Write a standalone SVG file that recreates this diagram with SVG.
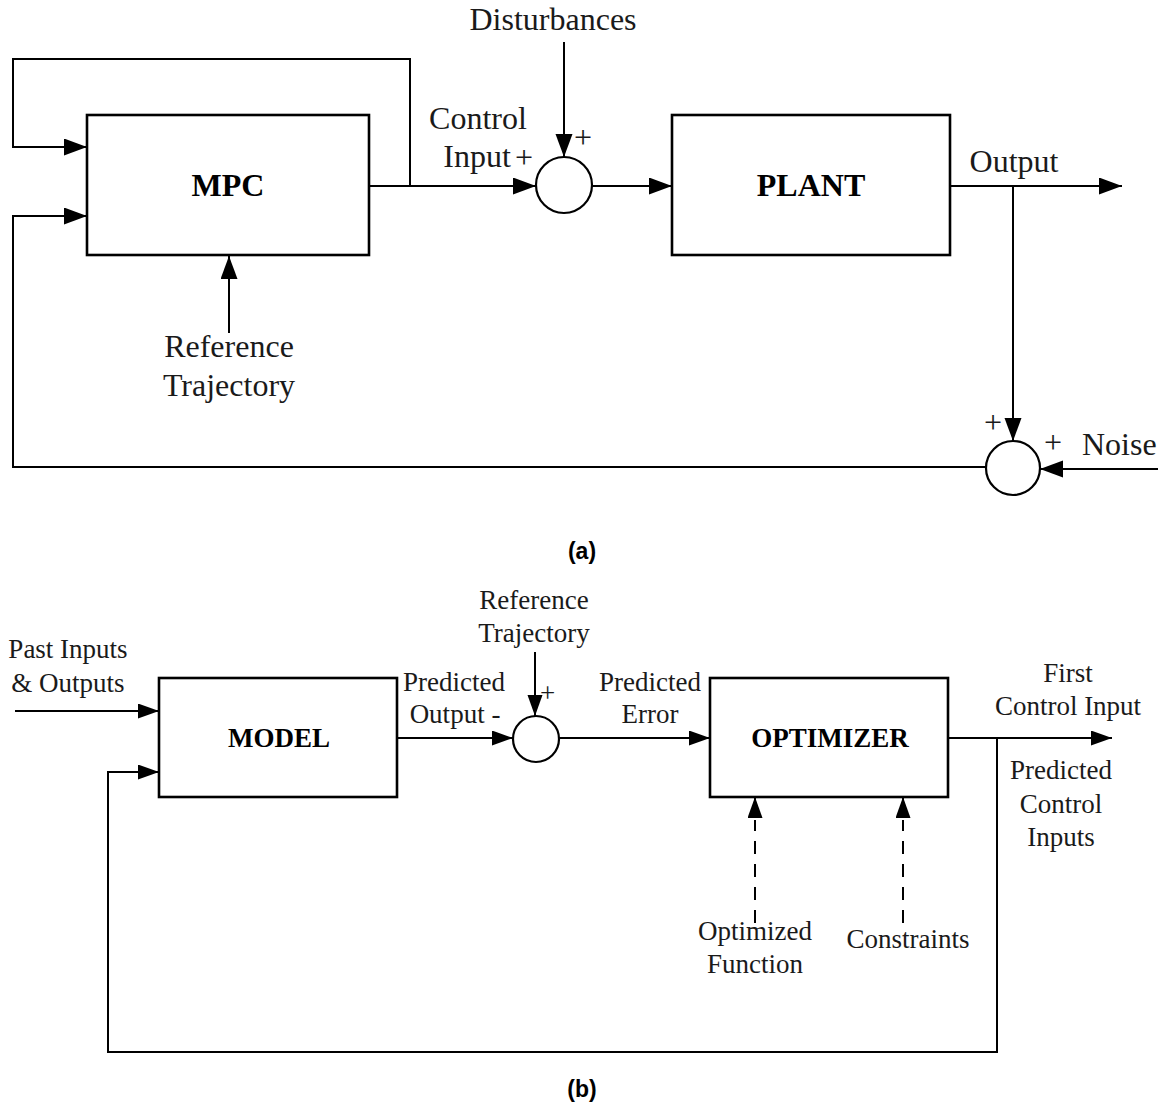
<svg xmlns="http://www.w3.org/2000/svg" width="1168" height="1115" viewBox="0 0 1168 1115">
<defs>
<marker id="arrA" markerUnits="userSpaceOnUse" markerWidth="26" markerHeight="20" refX="23" refY="8.5" orient="auto"><path d="M0,0 L23,8.5 L0,17 z" fill="#000"/></marker>
<marker id="arrB" markerUnits="userSpaceOnUse" markerWidth="24" markerHeight="16" refX="21" refY="7.5" orient="auto"><path d="M0,0 L21,7.5 L0,15 z" fill="#000"/></marker>
</defs>
<style>
.box{fill:#fff;stroke:#000;stroke-width:2.6}
.sum{fill:#fff;stroke:#000;stroke-width:2.2}
.ln{fill:none;stroke:#000;stroke-width:2}
.dash{fill:none;stroke:#000;stroke-width:2;stroke-dasharray:13,10}
.ta{font-family:"Liberation Serif",serif;font-size:32px;fill:#1a1a1a}
.tb{font-family:"Liberation Serif",serif;font-size:27px;fill:#1a1a1a}
.ba{font-family:"Liberation Serif",serif;font-size:32px;font-weight:bold;fill:#000}
.bb{font-family:"Liberation Serif",serif;font-size:27px;font-weight:bold;fill:#000}
.cap{font-family:"Liberation Sans",Arial,sans-serif;font-size:23px;font-weight:bold;fill:#000}
.m{text-anchor:middle}
</style>
<rect width="1168" height="1115" fill="#fff"/>
<g id="connectors">
<!-- (a) -->
<polyline class="ln" points="369,186 410,186 410,59 13,59 13,147 87,147" marker-end="url(#arrA)"/>
<polyline class="ln" points="986,467 13,467 13,216 87,216" marker-end="url(#arrA)"/>
<line class="ln" x1="410" y1="186" x2="536" y2="186" marker-end="url(#arrA)"/>
<line class="ln" x1="564" y1="42" x2="564" y2="157" marker-end="url(#arrA)"/>
<line class="ln" x1="592" y1="186" x2="672" y2="186" marker-end="url(#arrA)"/>
<line class="ln" x1="950" y1="186" x2="1122" y2="186" marker-end="url(#arrA)"/>
<line class="ln" x1="1013" y1="186" x2="1013" y2="441" marker-end="url(#arrA)"/>
<line class="ln" x1="1158" y1="469" x2="1040" y2="469" marker-end="url(#arrA)"/>
<line class="ln" x1="229" y1="333" x2="229" y2="256" marker-end="url(#arrA)"/>
<!-- (b) -->
<line class="ln" x1="15" y1="711" x2="159" y2="711" marker-end="url(#arrB)"/>
<polyline class="ln" points="997,738 997,1052 108,1052 108,772 159,772" marker-end="url(#arrB)"/>
<line class="ln" x1="397" y1="738" x2="513" y2="738" marker-end="url(#arrB)"/>
<line class="ln" x1="535" y1="652" x2="535" y2="716" marker-end="url(#arrB)"/>
<line class="ln" x1="559" y1="738" x2="710" y2="738" marker-end="url(#arrB)"/>
<line class="ln" x1="948" y1="738" x2="1112" y2="738" marker-end="url(#arrB)"/>
<line class="dash" x1="755" y1="923" x2="755" y2="820"/>
<line class="ln" x1="755" y1="818" x2="755" y2="797" marker-end="url(#arrB)"/>
<line class="dash" x1="903" y1="923" x2="903" y2="820"/>
<line class="ln" x1="903" y1="818" x2="903" y2="797" marker-end="url(#arrB)"/>
</g>
<g id="mpc"><rect class="box" x="87" y="115" width="282" height="140"/><text class="ba m" x="228" y="196">MPC</text></g>
<g id="plant"><rect class="box" x="672" y="115" width="278" height="140"/><text class="ba m" x="811" y="196">PLANT</text></g>
<g id="sum1"><circle class="sum" cx="564" cy="185" r="28"/></g>
<g id="sum2"><circle class="sum" cx="1013" cy="468" r="27"/></g>
<g id="labels-a">
<text class="ta m" x="553" y="30">Disturbances</text>
<text class="ta m" x="478" y="129">Control</text>
<text class="ta m" x="477" y="167">Input</text>
<text class="ta" x="515" y="168">+</text>
<text class="ta" x="574" y="148">+</text>
<text class="ta m" x="1014" y="172">Output</text>
<text class="ta" x="984" y="433">+</text>
<text class="ta" x="1044" y="453">+</text>
<text class="ta" x="1082" y="455">Noise</text>
<text class="ta m" x="229" y="357">Reference</text>
<text class="ta m" x="229" y="396">Trajectory</text>
<text class="cap m" x="582" y="559">(a)</text>
</g>
<g id="model"><rect class="box" x="159" y="678" width="238" height="119"/><text class="bb m" x="279" y="747">MODEL</text></g>
<g id="optimizer"><rect class="box" x="710" y="678" width="238" height="119"/><text class="bb m" x="830" y="747">OPTIMIZER</text></g>
<g id="sum3"><circle class="sum" cx="536" cy="739" r="23"/></g>
<g id="labels-b">
<text class="tb m" x="68" y="658">Past Inputs</text>
<text class="tb m" x="68" y="692">&amp; Outputs</text>
<text class="tb m" x="534" y="609">Reference</text>
<text class="tb m" x="534" y="642">Trajectory</text>
<text class="tb" x="540" y="702">+</text>
<text class="tb m" x="454" y="691">Predicted</text>
<text class="tb m" x="455" y="723">Output -</text>
<text class="tb m" x="650" y="691">Predicted</text>
<text class="tb m" x="650" y="723">Error</text>
<text class="tb m" x="1068" y="682">First</text>
<text class="tb m" x="1068" y="715">Control Input</text>
<text class="tb m" x="1061" y="779">Predicted</text>
<text class="tb m" x="1061" y="813">Control</text>
<text class="tb m" x="1061" y="846">Inputs</text>
<text class="tb m" x="755" y="940">Optimized</text>
<text class="tb m" x="755" y="973">Function</text>
<text class="tb m" x="908" y="948">Constraints</text>
<text class="cap m" x="582" y="1097">(b)</text>
</g>
</svg>
